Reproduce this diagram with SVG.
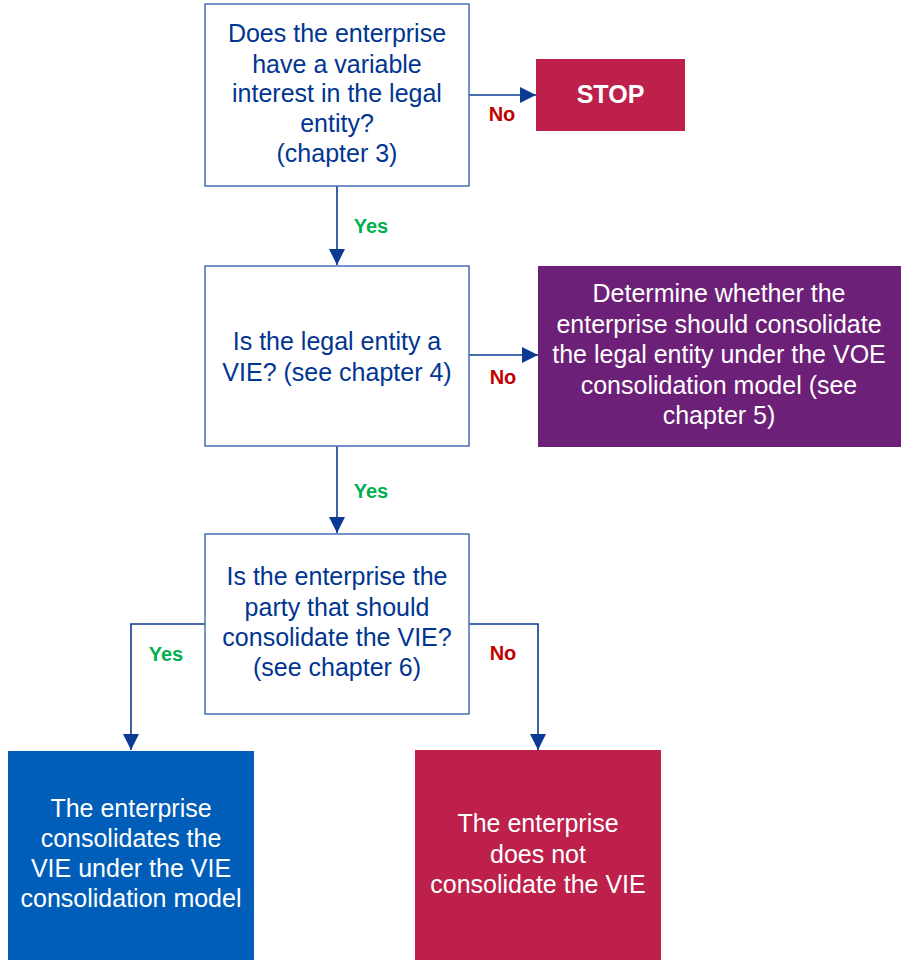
<svg xmlns="http://www.w3.org/2000/svg" width="903" height="960" viewBox="0 0 903 960">
<style>
.q{fill:#fff;stroke:#4a6db5;stroke-width:1.5}
.qt{font-family:"Liberation Sans",Arial,sans-serif;font-size:25px;fill:#003591;text-anchor:middle}
.wt{font-family:"Liberation Sans",Arial,sans-serif;font-size:25px;fill:#fff;text-anchor:middle}
.c{fill:none;stroke:#0a3a93;stroke-width:1.6}
.yes{font-family:"Liberation Sans",Arial,sans-serif;font-size:20px;font-weight:bold;fill:#00b050;text-anchor:middle}
.no{font-family:"Liberation Sans",Arial,sans-serif;font-size:20px;font-weight:bold;fill:#c00000;text-anchor:middle}
</style>
<defs>
<marker id="ah" viewBox="0 0 16 16" refX="16" refY="8" markerWidth="16" markerHeight="16" orient="auto" markerUnits="userSpaceOnUse">
<path d="M0,0 L16,8 L0,16 z" fill="#0a3a93"/>
</marker>
</defs>
<rect width="903" height="960" fill="#fff"/>
<g id="connectors">
<path class="c" d="M469,95 H536" marker-end="url(#ah)"/>
<path class="c" d="M337,186 V265" marker-end="url(#ah)"/>
<path class="c" d="M469,355 H538" marker-end="url(#ah)"/>
<path class="c" d="M337,446 V533" marker-end="url(#ah)"/>
<path class="c" d="M205,624 H131 V750" marker-end="url(#ah)"/>
<path class="c" d="M469,624 H538 V750" marker-end="url(#ah)"/>
<text class="no" x="502" y="121">No</text>
<text class="yes" x="371" y="233">Yes</text>
<text class="no" x="503" y="384">No</text>
<text class="yes" x="371" y="498">Yes</text>
<text class="yes" x="166" y="661">Yes</text>
<text class="no" x="503" y="660">No</text>
</g>
<g id="q1">
<rect class="q" x="205" y="4" width="264" height="182"/>
<text class="qt" x="337" y="42">Does the enterprise</text>
<text class="qt" x="337" y="72.5">have a variable</text>
<text class="qt" x="337" y="102">interest in the legal</text>
<text class="qt" x="337" y="132">entity?</text>
<text class="qt" x="337" y="162">(chapter 3)</text>
</g>
<g id="stop">
<rect x="536" y="59" width="149" height="72" fill="#bc204b"/>
<text class="wt" x="610.5" y="103" font-weight="bold">STOP</text>
</g>
<g id="q2">
<rect class="q" x="205" y="266" width="264" height="180"/>
<text class="qt" x="337" y="350">Is the legal entity a</text>
<text class="qt" x="337" y="381">VIE? (see chapter 4)</text>
</g>
<g id="voe">
<rect x="538" y="266" width="363" height="181" fill="#6d2077"/>
<text class="wt" x="719" y="302">Determine whether the</text>
<text class="wt" x="719" y="333">enterprise should consolidate</text>
<text class="wt" x="719" y="363">the legal entity under the VOE</text>
<text class="wt" x="719" y="394">consolidation model (see</text>
<text class="wt" x="719" y="424">chapter 5)</text>
</g>
<g id="q3">
<rect class="q" x="205" y="534" width="264" height="180"/>
<text class="qt" x="337" y="585">Is the enterprise the</text>
<text class="qt" x="337" y="615.5">party that should</text>
<text class="qt" x="337" y="646">consolidate the VIE?</text>
<text class="qt" x="337" y="676">(see chapter 6)</text>
</g>
<g id="consolidates">
<rect x="8" y="751" width="246" height="209" fill="#005eb8"/>
<text class="wt" x="131" y="817">The enterprise</text>
<text class="wt" x="131" y="847">consolidates the</text>
<text class="wt" x="131" y="877">VIE under the VIE</text>
<text class="wt" x="131" y="907">consolidation model</text>
</g>
<g id="notconsolidate">
<rect x="415" y="750" width="246" height="210" fill="#bc204b"/>
<text class="wt" x="538" y="832">The enterprise</text>
<text class="wt" x="538" y="862.5">does not</text>
<text class="wt" x="538" y="893">consolidate the VIE</text>
</g>
</svg>
